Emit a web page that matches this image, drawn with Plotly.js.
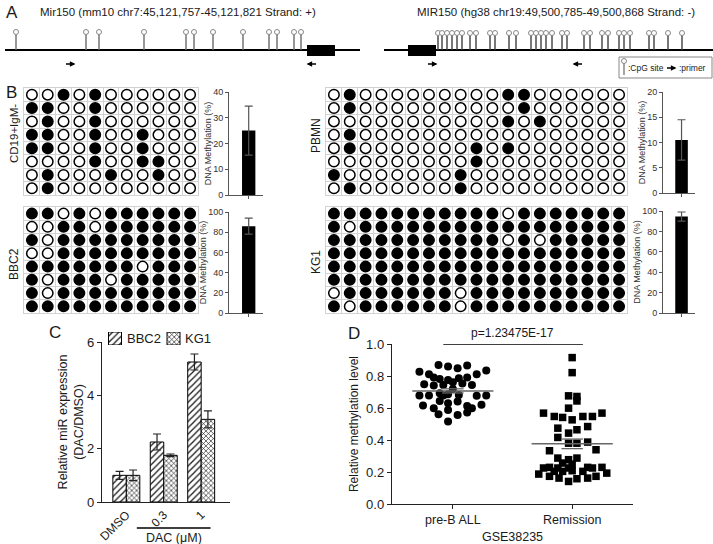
<!DOCTYPE html>
<html><head><meta charset="utf-8">
<script src="https://cdn.plot.ly/plotly-3.0.1.min.js"></script>
<style>html,body{margin:0;padding:0;background:#fff}#chart{width:713px;height:544px}</style>
</head><body><div id="chart"></div>
<script>
// ---------------- Panel A data ----------------
const mouseTitle = 'Mir150 (mm10 chr7:45,121,757-45,121,821 Strand: +)';
const humanTitle = 'MIR150 (hg38 chr19:49,500,785-49,500,868 Strand: -)';
const mouseCpG = [16,86,99,144,186,194,213,243,269,277,294,301];
const humanCpG = [438,442,447,452,457,462,470,476,490,495,509,516,531,536,541,546,552,562,567,584,590,602,608,619,624,630,649,654,668,682];
const mouseSpan = [5,360];
const humanSpan = [384,713];
const mouseExon = [307,335];
const humanExon = [408,436];
const mousePrimers = [70,312];
const mousePrimerDir = [1,-1];
const humanPrimers = [432,578];
const humanPrimerDir = [1,-1];
const legendLabels = [':CpG site', ':primer'];

// ---------------- Panel B data ----------------
const sampleNames = ['CD19+IgM-','BBC2','PBMN','KG1'];
const cd19Rows = [
 '00101000000',
 '11001000000',
 '01001000000',
 '11001001000',
 '11001001000',
 '00001001100',
 '01000100100',
 '01000000000'];
const bbc2Rows = [
 '11010111111',
 '00110111111',
 '10111111111',
 '00111111111',
 '11111110111',
 '10111011111',
 '10111111111',
 '11111111111'];
const pbmnRows = [
 '0100000000011000000',
 '0100000000001000000',
 '0000000000010100000',
 '0100000000000000000',
 '0100000001010000000',
 '0000000001000000000',
 '1000000010000000000',
 '0100000010000000000'];
const kg1Rows = [
 '1111111111101111111',
 '1011111111111111111',
 '1111111111101011111',
 '1111111111111111111',
 '1111111111111111111',
 '1111111111111111111',
 '0111111101111111111',
 '1011111101111111111'];
const methylPct = [25, 86, 10.5, 94.5];
const methylErr = [9.5, 8, 4, 4.5];
const methylAxisMax = [40, 100, 20, 100];
const methylAxisStep = [10, 20, 5, 20];
const methylTitle = 'DNA Methylation (%)';

// ---------------- Panel C data ----------------
const cellLines = ['BBC2','KG1'];
const dacDoses = ['DMSO','0.3','1'];
const bbc2Expr = [1.0, 2.25, 5.25];
const bbc2ExprErr = [0.15, 0.3, 0.3];
const kg1Expr = [1.0, 1.75, 3.1];
const kg1ExprErr = [0.2, 0.05, 0.32];
const exprTitle = 'Relative miR expression<br>(DAC/DMSO)';
const dacLabel = 'DAC (\u03bcM)';

// ---------------- Panel D data ----------------
const groups = ['pre-B ALL','Remission'];
const preBVals = [0.827,0.811,0.869,0.859,0.848,0.865,0.811,0.834,0.748,0.790,0.782,0.775,0.786,0.790,0.744,0.740,0.744,0.719,0.678,0.678,0.692,0.678,0.682,0.676,0.678,0.615,0.599,0.644,0.630,0.640,0.613,0.599,0.620,0.561,0.588,0.557,0.572,0.516,0.761,0.753,0.686];
const preBJitter = [-0.28,-0.20,-0.12,-0.04,0.04,0.12,0.20,0.28,-0.24,-0.16,-0.11,-0.04,0.05,0.12,0.16,-0.16,-0.08,0.0,-0.28,-0.20,-0.11,-0.08,0.05,0.20,0.28,-0.25,-0.16,-0.11,-0.04,0.04,0.12,0.16,0.24,-0.12,-0.04,0.04,0.12,-0.04,0.0,0.08,-0.04];
const remVals = [0.915,0.821,0.676,0.672,0.644,0.599,0.568,0.547,0.541,0.526,0.547,0.547,0.568,0.474,0.443,0.464,0.484,0.416,0.380,0.380,0.387,0.333,0.339,0.287,0.277,0.287,0.256,0.249,0.229,0.225,0.225,0.229,0.225,0.187,0.225,0.204,0.204,0.208,0.204,0.229,0.193,0.173,0.162,0.141,0.158,0.162,0.173];
const remJitter = [0.0,0.0,-0.03,0.04,0.04,-0.03,-0.24,-0.15,-0.08,0.0,0.09,0.17,0.25,-0.12,-0.03,0.04,0.13,-0.12,-0.03,0.04,0.13,-0.19,0.20,-0.12,-0.03,0.04,-0.08,0.0,-0.19,-0.12,-0.03,0.13,0.17,-0.28,-0.24,-0.15,-0.08,0.0,0.09,0.25,0.29,-0.19,-0.11,-0.03,0.04,0.13,0.20];
const groupMeans = [0.707, 0.376];
const groupSEM = [0.013, 0.03];
const pText = 'p=1.23475E-17';
const datasetName = 'GSE38235';
const methTitle = 'Relative methylation level';

// ---------------- layout helpers ----------------
const W = 713, H = 544;
const FONT = 'Liberation Sans, Arial, sans-serif';
const TXT = '#1a1a1a';
const fx = (a,b) => [a/W, b/W];
const fy = (top,bot) => [1-bot/H, 1-top/H];
const px = a => a/W;
const py = b => 1-b/H;

const traces = [];
const shapes = [];
const annotations = [];

// ---------- Panel A (schematic axis) ----------
function stemXY(xs, y0, y1){const X=[],Y=[];xs.forEach(v=>{X.push(v,v,null);Y.push(y0,y1,null);});return {X,Y};}
[mouseSpan, humanSpan].forEach(s=>{
  traces.push({type:'scatter',mode:'lines',x:s,y:[50,50],xaxis:'x',yaxis:'y',line:{color:'black',width:2},hoverinfo:'skip',showlegend:false});
});
const ms = stemXY(mouseCpG,33,50), hs = stemXY(humanCpG,34,50), ls = stemXY([624],62,75);
traces.push({type:'scatter',mode:'lines',x:ms.X,y:ms.Y,xaxis:'x',yaxis:'y',line:{color:'#6a6a6a',width:1.4},hoverinfo:'skip',showlegend:false});
traces.push({type:'scatter',mode:'lines',x:hs.X,y:hs.Y,xaxis:'x',yaxis:'y',line:{color:'#404040',width:1.4},hoverinfo:'skip',showlegend:false});
traces.push({type:'scatter',mode:'lines',x:ls.X,y:ls.Y,xaxis:'x',yaxis:'y',line:{color:'#6a6a6a',width:1.2},hoverinfo:'skip',showlegend:false});
traces.push({type:'scatter',mode:'markers',x:mouseCpG,y:mouseCpG.map(()=>32),xaxis:'x',yaxis:'y',marker:{symbol:'circle',size:5,color:'white',line:{color:'#888',width:1}},hoverinfo:'skip',showlegend:false});
traces.push({type:'scatter',mode:'markers',x:humanCpG,y:humanCpG.map(()=>33),xaxis:'x',yaxis:'y',marker:{symbol:'circle',size:5,color:'white',line:{color:'#888',width:1}},hoverinfo:'skip',showlegend:false});
traces.push({type:'scatter',mode:'markers',x:[624],y:[61],xaxis:'x',yaxis:'y',marker:{symbol:'circle',size:5,color:'white',line:{color:'#888',width:1}},hoverinfo:'skip',showlegend:false});
[mouseExon, humanExon].forEach(e=>shapes.push({type:'rect',xref:'x',yref:'y',x0:e[0],x1:e[1],y0:45,y1:56,fillcolor:'black',line:{width:0}}));
shapes.push({type:'rect',xref:'x',yref:'y',x0:619,x1:712,y0:57,y1:78,line:{color:'#888',width:1},fillcolor:'rgba(0,0,0,0)'});
function arrow(p,dir,y){annotations.push({xref:'x',yref:'y',axref:'x',ayref:'y',x:p+dir*5.5,y:y,ax:p-dir*5.5,ay:y,text:'',showarrow:true,arrowhead:2,arrowsize:0.75,arrowwidth:1.5,arrowcolor:'black'});}
mousePrimers.forEach((p,i)=>arrow(p,mousePrimerDir[i],64));
humanPrimers.forEach((p,i)=>arrow(p,humanPrimerDir[i],64));
arrow(671,1,68);
annotations.push({xref:'x',yref:'y',x:626,y:68,text:legendLabels[0],showarrow:false,xanchor:'left',yanchor:'middle',font:{family:FONT,size:8.5,color:TXT}});
annotations.push({xref:'x',yref:'y',x:677,y:68,text:legendLabels[1],showarrow:false,xanchor:'left',yanchor:'middle',font:{family:FONT,size:8.5,color:TXT}});

function txt(x,y,t,size,opts){annotations.push(Object.assign({xref:'paper',yref:'paper',x:px(x),y:py(y),text:t,showarrow:false,xanchor:'left',yanchor:'middle',font:{family:FONT,size:size,color:TXT}},opts||{}));}
txt(4,12,'A',17);
txt(38,12,mouseTitle,11.5);
txt(415,12,humanTitle,11.5);
txt(4,92,'B',17);
txt(47,332,'C',17);
txt(346,333,'D',17);
txt(14,134,sampleNames[0],11.5,{textangle:-90,xanchor:'center'});
txt(14,264,sampleNames[1],12,{textangle:-90,xanchor:'center'});
txt(316,136,sampleNames[2],12,{textangle:-90,xanchor:'center'});
txt(316,262,sampleNames[3],12,{textangle:-90,xanchor:'center'});

// ---------- Panel B grids ----------
function gridTrace(rows, ax){
  const x=[],y=[],c=[];
  rows.forEach((r,i)=>{[...r].forEach((ch,j)=>{x.push(j);y.push(i);c.push(ch==='1'?'black':'white');});});
  return {type:'scatter',mode:'markers',x,y,xaxis:'x'+ax,yaxis:'y'+ax,marker:{symbol:'circle',size:10.5,color:c,line:{color:'black',width:1.5}},hoverinfo:'skip',showlegend:false};
}
traces.push(gridTrace(cd19Rows,2));
traces.push(gridTrace(bbc2Rows,3));
traces.push(gridTrace(pbmnRows,4));
traces.push(gridTrace(kg1Rows,5));
function gridAxes(ncol,nrow,xd,yd,n){
  const common={tickmode:'linear',tick0:0.5,dtick:1,showgrid:true,gridcolor:'#d2d2d2',gridwidth:1,showline:true,mirror:true,linecolor:'#d2d2d2',linewidth:1,showticklabels:false,ticks:'',zeroline:false,fixedrange:true};
  return [Object.assign({},common,{domain:xd,range:[-0.5,ncol-0.5],anchor:'y'+n}),Object.assign({},common,{domain:yd,range:[nrow-0.5,-0.5],anchor:'x'+n})];
}
// ---------- Panel B bars ----------
function barTrace(i,ax){
  return {type:'bar',x:[0],y:[methylPct[i]],width:0.42,xaxis:'x'+ax,yaxis:'y'+ax,marker:{color:'black',line:{width:0}},
    error_y:{type:'data',array:[methylErr[i]],visible:true,color:'#555',thickness:1.2,width:4},hoverinfo:'skip',showlegend:false};
}
for(let i=0;i<4;i++) traces.push(barTrace(i,6+i));
function barAxes(i,xd,yd,n){
  return [
   {domain:xd,range:[-0.62,0.45],anchor:'y'+n,showline:true,linecolor:'#555',linewidth:1,tickvals:[0],ticktext:[''],ticks:'outside',ticklen:3,tickcolor:'#555',showgrid:false,zeroline:false,fixedrange:true},
   {domain:yd,range:[0,methylAxisMax[i]],dtick:methylAxisStep[i],anchor:'x'+n,showline:true,linecolor:'#555',linewidth:1,ticks:'outside',ticklen:3,tickcolor:'#555',tickfont:{family:FONT,size:9,color:'#333'},showgrid:false,zeroline:false,fixedrange:true,
    title:{text:methylTitle,font:{family:FONT,size:9,color:'#333'},standoff:0}}
  ];
}

// ---------- Panel C ----------
const bbc2Pattern = {shape:'/',fgcolor:'#222',bgcolor:'white',size:4.5,solidity:0.3};
const kg1Pattern = {shape:'x',fgcolor:'#222',bgcolor:'white',size:3.5,solidity:0.35};
traces.push({type:'bar',name:cellLines[0],x:dacDoses,y:bbc2Expr,xaxis:'x10',yaxis:'y10',
  marker:{color:'white',line:{color:'black',width:1},pattern:bbc2Pattern},
  error_y:{type:'data',array:bbc2ExprErr,visible:true,color:'#222',thickness:1.2,width:4},hoverinfo:'skip',showlegend:false});
traces.push({type:'bar',name:cellLines[1],x:dacDoses,y:kg1Expr,xaxis:'x10',yaxis:'y10',
  marker:{color:'white',line:{color:'black',width:1},pattern:kg1Pattern},
  error_y:{type:'data',array:kg1ExprErr,visible:true,color:'#222',thickness:1.2,width:4},hoverinfo:'skip',showlegend:false});
// legend swatches (own small axis, pixel units)
traces.push({type:'bar',x:[115],y:[1],width:13,offset:-6.5,xaxis:'x12',yaxis:'y12',marker:{color:'white',line:{color:'black',width:1},pattern:bbc2Pattern},hoverinfo:'skip',showlegend:false});
traces.push({type:'bar',x:[173.5],y:[1],width:13,offset:-6.5,xaxis:'x12',yaxis:'y12',marker:{color:'white',line:{color:'black',width:1},pattern:kg1Pattern},hoverinfo:'skip',showlegend:false});
txt(125,338,cellLines[0],13);
txt(183,338,cellLines[1],13);
shapes.push({type:'line',xref:'x10',yref:'paper',x0:0.28,x1:2.25,y0:py(528),y1:py(528),line:{color:'black',width:1.3}});
annotations.push({xref:'x10',yref:'paper',x:1.27,y:py(538),text:dacLabel,showarrow:false,xanchor:'center',yanchor:'middle',font:{family:FONT,size:12.5,color:TXT}});

// ---------- Panel D ----------
traces.push({type:'scatter',mode:'markers',x:preBJitter,y:preBVals,xaxis:'x11',yaxis:'y11',marker:{symbol:'circle',size:8,color:'black'},hoverinfo:'skip',showlegend:false});
traces.push({type:'scatter',mode:'markers',x:remJitter.map(v=>1+v),y:remVals,xaxis:'x11',yaxis:'y11',marker:{symbol:'square',size:7.5,color:'black'},hoverinfo:'skip',showlegend:false});
groupMeans.forEach((m,i)=>{
  shapes.push({type:'line',xref:'x11',yref:'y11',x0:i-0.34,x1:i+0.34,y0:m,y1:m,line:{color:'#666',width:1.5}});
  [m+groupSEM[i],m-groupSEM[i]].forEach(v=>shapes.push({type:'line',xref:'x11',yref:'y11',x0:i-0.09,x1:i+0.09,y0:v,y1:v,line:{color:'#666',width:1.3}}));
});
shapes.push({type:'line',xref:'x11',yref:'y11',x0:-0.08,x1:1.09,y0:1,y1:1,line:{color:'black',width:1.6}});
annotations.push({xref:'x11',yref:'paper',x:0.5,y:py(333),text:pText,showarrow:false,xanchor:'center',yanchor:'middle',font:{family:FONT,size:12,color:TXT}});

const [gx2,gy2]=gridAxes(11,8,fx(24,198),fy(88,195),2);
const [gx3,gy3]=gridAxes(11,8,fx(24,198),fy(207,313),3);
const [gx4,gy4]=gridAxes(19,8,fx(326,627),fy(88,195),4);
const [gx5,gy5]=gridAxes(19,8,fx(326,627),fy(207,313),5);
const [bx6,by6]=barAxes(0,fx(229,263),fy(92,195),6);
const [bx7,by7]=barAxes(1,fx(229,263),fy(212,313),7);
const [bx8,by8]=barAxes(2,fx(663,695),fy(92,193),8);
const [bx9,by9]=barAxes(3,fx(663,695),fy(211,313),9);

const layout = {
  width:W,height:H,margin:{l:0,r:0,t:0,b:0},paper_bgcolor:'white',plot_bgcolor:'rgba(0,0,0,0)',
  font:{family:FONT,color:TXT},
  barmode:'group',bargap:0.28,bargroupgap:0,
  showlegend:false,
  xaxis:{domain:[0,1],range:[0,W],visible:false,fixedrange:true,anchor:'y'},
  yaxis:{domain:fy(0,80),range:[80,0],visible:false,fixedrange:true,anchor:'x'},
  xaxis2:gx2,yaxis2:gy2,xaxis3:gx3,yaxis3:gy3,xaxis4:gx4,yaxis4:gy4,xaxis5:gx5,yaxis5:gy5,
  xaxis6:bx6,yaxis6:by6,xaxis7:bx7,yaxis7:by7,xaxis8:bx8,yaxis8:by8,xaxis9:bx9,yaxis9:by9,
  xaxis10:{domain:fx(102,230),type:'category',range:[-0.65,2.77],anchor:'y10',showline:true,linecolor:'#222',linewidth:1.2,ticks:'',tickangle:-45,tickfont:{family:FONT,size:12,color:TXT},showgrid:false,zeroline:false,fixedrange:true},
  yaxis10:{domain:fy(342,502),range:[0,6],dtick:2,anchor:'x10',showline:true,linecolor:'#222',linewidth:1.2,ticks:'outside',ticklen:4,tickcolor:'#222',tickfont:{family:FONT,size:13,color:TXT},showgrid:false,zeroline:false,fixedrange:true,
    title:{text:exprTitle,font:{family:FONT,size:12.5,color:TXT},standoff:0}},
  xaxis11:{domain:fx(392,633),range:[-0.51,1.51],anchor:'y11',tickvals:[0,1],ticktext:groups,showline:true,linecolor:'#222',linewidth:1.2,ticks:'outside',ticklen:4,tickcolor:'#222',tickfont:{family:FONT,size:12.5,color:TXT},showgrid:false,zeroline:false,fixedrange:true,
    title:{text:datasetName,font:{family:FONT,size:12.5,color:TXT},standoff:8}},
  yaxis11:{domain:fy(344,504),range:[0,1],dtick:0.2,tickformat:'.1f',anchor:'x11',showline:true,linecolor:'#222',linewidth:1.2,ticks:'outside',ticklen:4,tickcolor:'#222',tickfont:{family:FONT,size:13,color:TXT},showgrid:false,zeroline:false,fixedrange:true,
    title:{text:methTitle,font:{family:FONT,size:12,color:TXT},standoff:5}},
  xaxis12:{domain:fx(100,200),range:[100,200],visible:false,fixedrange:true,anchor:'y12'},
  yaxis12:{domain:fy(332,345),range:[0,1],visible:false,fixedrange:true,anchor:'x12'},
  shapes:shapes,annotations:annotations
};
Plotly.newPlot('chart',traces,layout,{displayModeBar:false,staticPlot:true});
</script></body></html>
